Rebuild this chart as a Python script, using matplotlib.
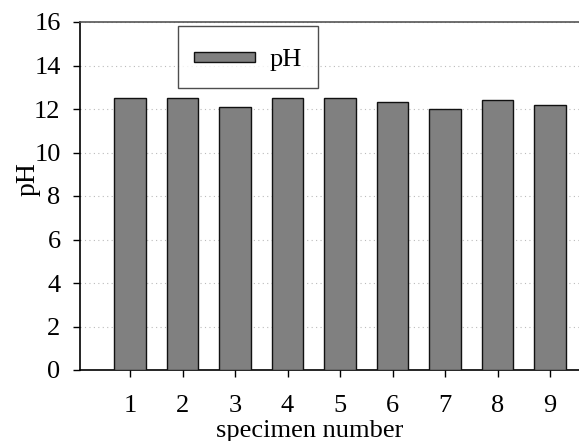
import matplotlib
matplotlib.use("Agg")
import matplotlib.pyplot as plt
from matplotlib.patches import Rectangle
from matplotlib.container import BarContainer
from matplotlib.legend_handler import HandlerPatch, update_from_first_child

specimens = [1, 2, 3, 4, 5, 6, 7, 8, 9]
ph_values = [12.5, 12.5, 12.1, 12.5, 12.5, 12.3, 12.0, 12.4, 12.2]
series_name = "pH"
y_ticks = [0, 2, 4, 6, 8, 10, 12, 14, 16]

plt.rcParams['font.family'] = ['Liberation Serif', 'DejaVu Serif']

fig = plt.figure(figsize=(5.79, 4.41), dpi=100)
ax = fig.add_axes([80/579, 1 - 370/441, 1 - 80/579, 348/441])

ax.bar(specimens, ph_values, width=0.6, color='#808080', edgecolor='#111111',
       linewidth=1.0, label=series_name, zorder=3)

ax.set_ylim(0, 16)
ax.set_xlim(1 - 50/52.5, 1 - 50/52.5 + 499/52.5)
ax.set_yticks(y_ticks)
ax.set_xticks(specimens)
ax.yaxis.grid(True, linestyle=(0, (1, 3)), color='#bbbbbb', linewidth=0.8, zorder=0)
ax.xaxis.grid(False)

ax.spines['right'].set_visible(False)
ax.spines['top'].set_color('#555555')
ax.spines['top'].set_linewidth(1.2)
ax.spines['left'].set_linewidth(1.2)
ax.spines['bottom'].set_linewidth(1.2)

ax.tick_params(axis='y', direction='out', length=5, width=1, labelsize=19, pad=9)
ax.tick_params(axis='x', direction='out', length=5, width=1, labelsize=19, pad=13)

ax.set_xlabel("specimen number", fontsize=19)
ax.xaxis.set_label_coords((310 - 80) / 499, -(420 - 370) / 348)
ax.set_ylabel("pH", fontsize=20)
ax.yaxis.set_label_coords((41 - 80) / 499, (370 - 179) / 348)


def thin_rect(legend, orig_handle, xdescent, ydescent, width, height, fontsize):
    h = 7.2
    return Rectangle((-xdescent, -ydescent + (height - h) / 2), width, h)


leg = ax.legend(loc='upper left', bbox_to_anchor=((178 - 80) / 499, (370 - 26) / 348),
                fontsize=19, frameon=True, fancybox=False, shadow=False,
                handlelength=2.3, handleheight=1.4, borderpad=0.6, handletextpad=0.57,
                borderaxespad=0,
                handler_map={BarContainer: HandlerPatch(patch_func=thin_rect,
                                                        update_func=update_from_first_child)})
leg.get_frame().set_edgecolor('#222222')
leg.get_frame().set_linewidth(1.0)

fig.savefig("out.png", dpi=100)
